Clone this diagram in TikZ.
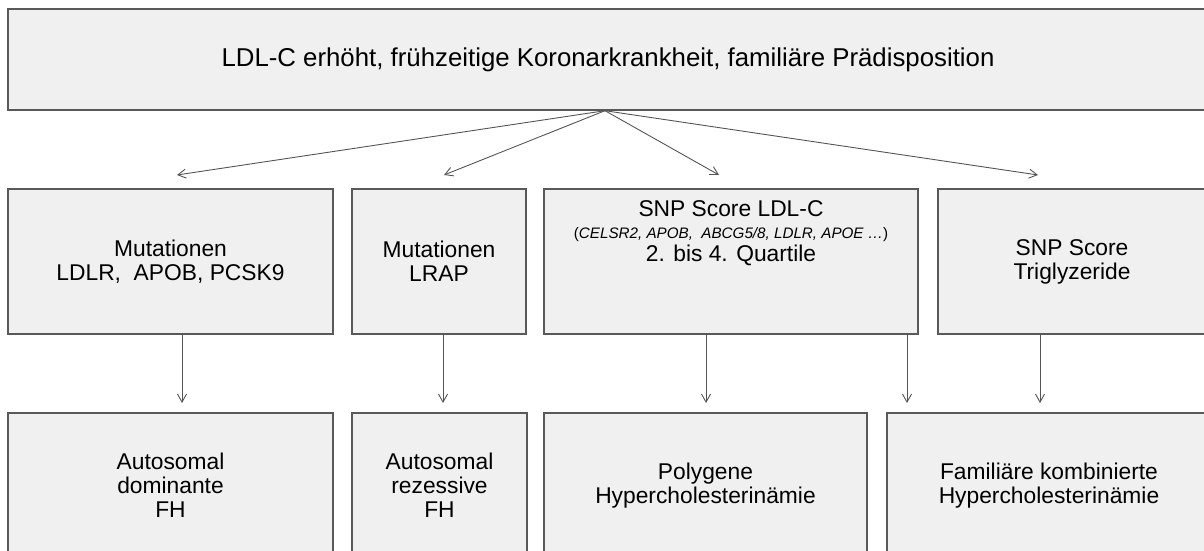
\documentclass[tikz,border=0pt]{standalone}
\usepackage{fontspec}
\setmainfont{Liberation Sans}
\usepackage{tikz}
\usetikzlibrary{arrows.meta, positioning}
\definecolor{boxgray}{HTML}{F0F0F0}
\definecolor{linegray}{HTML}{555555}

\begin{document}
\begin{tikzpicture}[x=0.5pt, y=-0.5pt,
  box/.style={draw=black!65, line width=0.7pt, fill=boxgray, inner sep=0pt,
    align=center, font=\fontsize{11.4}{12}\selectfont},
  arr/.style={draw=linegray, line width=0.45pt, -{Straight Barb[length=4pt, width=4.5pt]}}]
\useasboundingbox (0,0) rectangle (1204,551);
\node[box, minimum width=600pt, minimum height=50.5pt, font=\fontsize{12.9}{13}\selectfont] (top) at (608,59.5)
  {LDL-C erhöht, frühzeitige Koronarkrankheit, familiäre Prädisposition};
\node[box, minimum width=162.5pt, minimum height=72.5pt] (m1) at (170.5,261.5) {Mutationen\\LDLR,\ \ APOB, PCSK9};
\node[box, minimum width=87pt, minimum height=72.5pt] (m2) at (439,261.5) {Mutationen\\LRAP};
\node[box, minimum width=187pt, minimum height=72.5pt] (snp) at (731,261.5) {};
\node[box, draw=none, fill=none, anchor=north, below=6pt of snp.north] (snptxt)
  {SNP Score LDL-C\\[-1pt]{\fontsize{7.6}{9}\selectfont(\textit{CELSR2, APOB,\ \ ABCG5/8, LDLR, APOE …})}\\[-0.5pt]2. bis 4. Quartile};
\node[box, minimum width=134pt, minimum height=72.5pt] (tg) at (1072,261.5) {SNP Score\\Triglyzeride};
\node[box, minimum width=162.5pt, minimum height=72.5pt] (ad) at (170.5,485.5) {Autosomal\\dominante\\FH};
\node[box, minimum width=87.5pt, minimum height=72.5pt] (ar) at (439.5,485.5) {Autosomal\\rezessive\\FH};
\node[box, minimum width=161.5pt, minimum height=72.5pt] (pg) at (705.5,485.5) {Polygene\\Hypercholesterinämie};
\node[box, minimum width=162pt, minimum height=72.5pt] (fk) at (1049,485.5) {Familiäre kombinierte\\Hypercholesterinämie};
\coordinate (fan) at ([xshift=-1.5pt]top.south);
\foreach \n/\x in {f1/177, f2/444, f3/719, f4/1038} {
  \coordinate (\n) at (\x,175);
  \draw[arr] (fan) -- (\n);
}
\foreach \s/\x in {m1/182, m2/443, snp/706, snp/907, tg/1040} {
  \coordinate (v) at (\x,403);
  \draw[arr] (\s.south -| v) -- (v);
}
\end{tikzpicture}
\end{document}
